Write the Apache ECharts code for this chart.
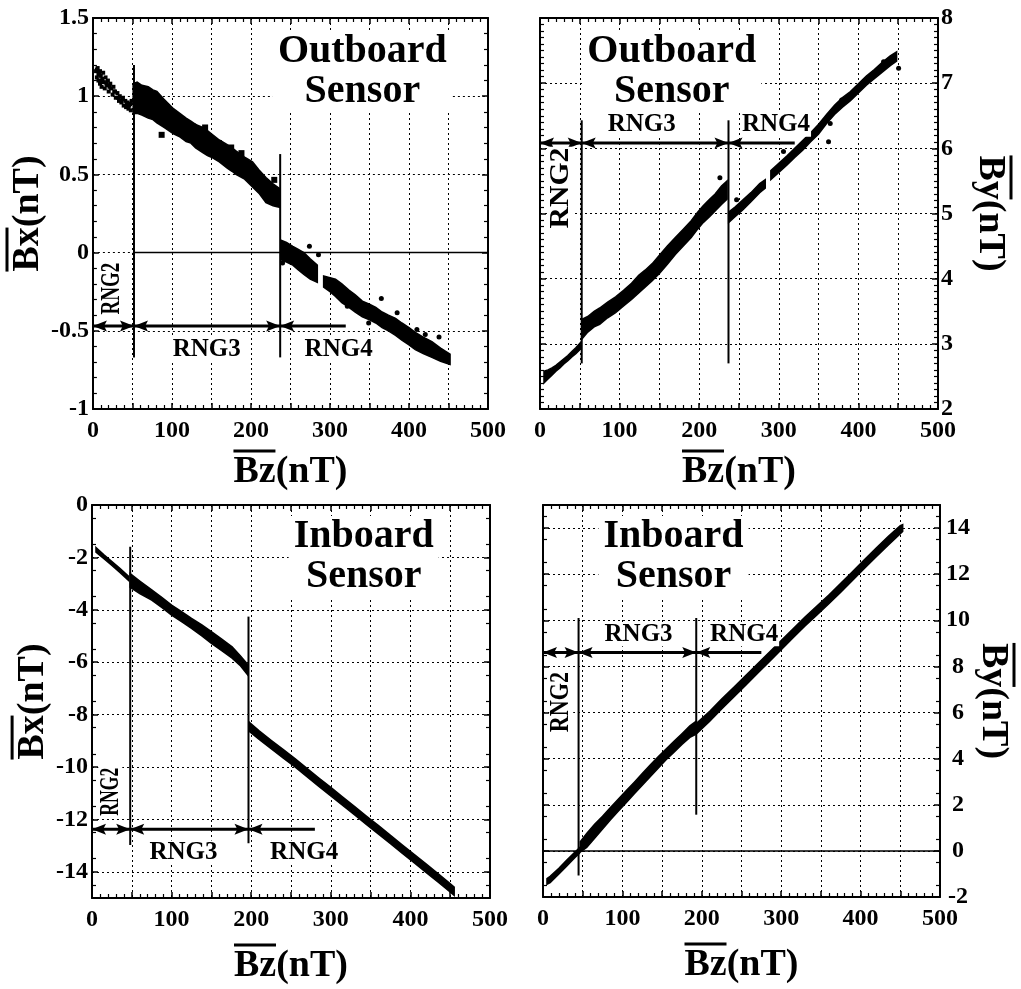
<!DOCTYPE html>
<html><head><meta charset="utf-8">
<script src="https://cdn.jsdelivr.net/npm/echarts@6/dist/echarts.min.js"></script>
<style>html,body{margin:0;padding:0;background:#fff}#c{width:1021px;height:989px}</style>
</head><body><div id="c"></div>
<script>
const FONT = '"Liberation Serif","Times New Roman",serif';

// ---------- shared Bz axis ----------
const X_RANGE = [0, 500];
const X_GRID_STEP = 50;
const X_TICK_LABELS = [0, 100, 200, 300, 400, 500];

// ---------- Panel 1 : Outboard sensor, Bx vs Bz ----------
const P1_Y_RANGE = [-1, 1.5];
const P1_Y_STEP = 0.5;
const P1_Y_TICK_LABELS = [-1, -0.5, 0, 0.5, 1, 1.5];
const P1_RNG2_DOTS = [[4,1.16],[5,1.12],[5,1.17],[6,1.18],[7,1.10],[7,1.14],[8,1.14],[9,1.08],[9,1.16],[10,1.13],[11,1.06],[11,1.10],[12,1.11],[13,1.15],[14,1.09],[15,1.05],[16,1.12],[17,1.08],[18,1.07],[19,1.10],[20,1.03],[21,1.06],[22,1.08],[23,1.05],[25,1.01],[26,1.06],[27,1.03],[28,1.03],[29,0.99],[31,1.02],[32,0.99],[33,0.97],[34,1.00],[36,0.96],[37,0.98],[38,0.99],[39,0.94],[41,0.97],[42,0.93],[43,0.95],[44,0.96],[45,0.92],[46,0.94],[47,0.95],[48,0.91],[49,0.97]];
const P1_RNG3_BAND = [[51,0.89,1.08],[56,0.89,1.09],[62,0.88,1.07],[70,0.86,1.06],[76,0.85,1.04],[81,0.83,1.03],[90,0.80,0.98],[96,0.78,0.95],[102,0.76,0.92],[110,0.74,0.89],[118,0.71,0.86],[124,0.70,0.84],[130,0.67,0.82],[139,0.64,0.80],[145,0.62,0.78],[150,0.61,0.76],[160,0.58,0.72],[170,0.54,0.69],[176,0.52,0.67],[181,0.50,0.65],[192,0.47,0.61],[202,0.42,0.58],[210,0.38,0.53],[219,0.32,0.48],[228,0.30,0.44],[236,0.29,0.41]];
const P1_RNG3_DOTS = [[87,0.753],[127,0.806],[142,0.80],[159.5,0.70],[175,0.672],[188,0.636],[229.5,0.465]];
const P1_RNG4A_BAND = [[238,-0.045,0.08],[245,-0.06,0.065],[253,-0.08,0.04],[260,-0.11,0.02],[267,-0.14,0.0],[275,-0.17,-0.04],[284,-0.19,-0.08]];
const P1_RNG4B_BAND = [[292,-0.22,-0.15],[300,-0.25,-0.16],[307,-0.28,-0.17],[315,-0.32,-0.20],[324,-0.35,-0.24],[332,-0.38,-0.27],[341,-0.41,-0.31],[350,-0.43,-0.33],[358,-0.45,-0.35],[366,-0.48,-0.38],[374,-0.50,-0.40],[383,-0.53,-0.42],[391,-0.56,-0.45],[400,-0.59,-0.48],[408,-0.62,-0.51],[418,-0.645,-0.54],[429,-0.67,-0.57],[440,-0.695,-0.61],[452,-0.715,-0.65]];
const P1_RNG4_DOTS = [[240,-0.067],[274,0.04],[285.5,-0.013],[322,-0.343],[349,-0.45],[365,-0.294],[385,-0.384],[410,-0.492],[420.6,-0.524],[438,-0.54]];
const P1_SPLITS = [[52,-0.67,1.2],[237,-0.67,0.63]];
const P1_ZERO_LINE = [52, 500];
const P1_ARROW_Y = -0.47;
const P1_ARROW_X = [0, 52, 237, 320];
const P1_RNG_LABEL_POS = [[24,-0.23],[144,-0.62],[311,-0.62]];
const P1_TITLE_POS = [341, 1.16];

// ---------- Panel 2 : Outboard sensor, By vs Bz ----------
const P2_Y_RANGE = [2, 8];
const P2_Y_STEP = 1;
const P2_Y_TICK_LABELS = [2, 3, 4, 5, 6, 7, 8];
const P2_RNG2_BAND = [[5,2.40,2.58],[10,2.46,2.60],[15,2.52,2.63],[20,2.58,2.67],[25,2.63,2.72],[30,2.69,2.77],[35,2.74,2.82],[40,2.80,2.88],[45,2.85,2.94],[51,2.92,3.02]];
const P2_RNG3_BAND = [[53,3.08,3.38],[60,3.18,3.42],[68,3.26,3.50],[75,3.30,3.55],[85,3.40,3.64],[95,3.48,3.72],[105,3.58,3.82],[115,3.68,3.93],[124,3.78,4.05],[132,3.87,4.13],[141,3.97,4.23],[150,4.08,4.36],[160,4.22,4.50],[170,4.37,4.63],[180,4.50,4.76],[190,4.63,4.89],[198,4.76,5.02],[205,4.86,5.12],[213,4.95,5.22],[220,5.04,5.30],[228,5.14,5.42],[235,5.22,5.50]];
const P2_RNG4A_BAND = [[237,4.86,5.02],[245,4.95,5.10],[255,5.06,5.21],[265,5.18,5.32],[276,5.32,5.46],[283,5.39,5.52]];
const P2_RNG4B_BAND = [[290,5.52,5.66],[300,5.63,5.77],[310,5.74,5.88],[320,5.86,6.00],[330,5.97,6.12],[340,6.10,6.24],[350,6.22,6.37],[360,6.38,6.52],[370,6.52,6.66],[380,6.63,6.78],[390,6.73,6.87],[400,6.85,6.99],[410,6.97,7.11],[420,7.07,7.21],[430,7.17,7.32],[440,7.27,7.42],[448,7.34,7.48]];
const P2_DOTS = [[226,5.55],[247,5.21],[305.9,5.95],[362.5,6.10],[364.6,6.38],[379,6.74],[398,6.92],[431.6,7.33],[450.5,7.23]];
const P2_SPLITS = [[52.4,2.70,6.43],[236.8,2.70,6.43]];
const P2_ARROW_Y = 6.08;
const P2_ARROW_X = [0, 52.4, 236.8, 320];
const P2_RNG_LABEL_POS = [[26.2,5.39],[127.8,6.36],[296.5,6.36]];
const P2_TITLE_POS = [165.6, 7.18];

// ---------- Panel 3 : Inboard sensor, Bx vs Bz ----------
const P3_Y_RANGE = [-15, 0];
const P3_Y_STEP = 1;
const P3_Y_TICK_LABELS = [-14, -12, -10, -8, -6, -4, -2, 0];
const P3_RNG2_BAND = [[5,-1.80,-1.62],[15,-2.05,-1.90],[25,-2.31,-2.16],[35,-2.57,-2.42],[46,-2.88,-2.72]];
const P3_RNG3_BAND = [[48,-3.14,-2.62],[60,-3.38,-2.90],[75,-3.63,-3.24],[88,-3.92,-3.53],[100,-4.20,-3.82],[113,-4.46,-4.08],[125,-4.71,-4.33],[138,-5.00,-4.58],[150,-5.28,-4.83],[163,-5.56,-5.12],[176,-5.85,-5.41],[186,-6.12,-5.74],[196,-6.50,-6.10]];
const P3_RNG4_BAND = [[198,-8.65,-8.30],[210,-8.95,-8.62],[225,-9.30,-8.98],[240,-9.65,-9.33],[255,-10.00,-9.68],[270,-10.37,-10.05],[285,-10.74,-10.42],[300,-11.10,-10.78],[315,-11.47,-11.15],[330,-11.83,-11.51],[345,-12.20,-11.88],[360,-12.56,-12.24],[375,-12.93,-12.61],[390,-13.30,-12.98],[405,-13.66,-13.34],[420,-14.03,-13.71],[435,-14.40,-14.08],[448,-14.72,-14.40],[455,-14.90,-14.58]];
const P3_SPLITS = [[48,-12.98,-1.59],[196.6,-12.91,-4.26]];
const P3_ARROW_Y = -12.38;
const P3_ARROW_X = [0, 48, 196.6, 280];
const P3_RNG_LABEL_POS = [[23,-10.94],[114.9,-13.26],[266.5,-13.26]];
const P3_TITLE_POS = [341.3, -1.98];

// ---------- Panel 4 : Inboard sensor, By vs Bz ----------
const P4_Y_RANGE = [-2, 15];
const P4_Y_STEP = 1;
const P4_Y_TICK_LABELS = [-2, 0, 2, 4, 6, 8, 10, 12, 14];
const P4_RNG2_BAND = [[5,-1.45,-1.20],[9,-1.38,-1.10],[20,-1.00,-0.75],[30,-0.65,-0.40],[40,-0.30,-0.06],[46,-0.10,0.14]];
const P4_RNG3_BAND = [[47,-0.05,0.40],[55,0.15,0.75],[65,0.55,1.15],[75,0.95,1.50],[85,1.35,1.88],[95,1.73,2.25],[105,2.10,2.62],[115,2.48,2.98],[125,2.85,3.35],[135,3.22,3.72],[145,3.58,4.08],[155,3.95,4.42],[165,4.28,4.75],[175,4.62,5.08],[185,4.92,5.42],[192,5.05,5.60]];
const P4_RNG4_BAND = [[194,5.10,5.55],[210,5.62,6.05],[225,6.15,6.58],[240,6.66,7.08],[255,7.17,7.59],[270,7.69,8.10],[285,8.20,8.61],[300,8.72,9.12],[315,9.24,9.63],[330,9.75,10.14],[345,10.23,10.62],[360,10.72,11.10],[375,11.22,11.60],[390,11.74,12.12],[405,12.26,12.64],[420,12.77,13.14],[435,13.27,13.64],[450,13.75,14.10],[453,13.85,14.15]];
const P4_SPLITS = [[44.8,-1.07,10.1],[193,1.57,10.1]];
const P4_ZERO_LINE = [0, 500];
const P4_ARROW_Y = 8.6;
const P4_ARROW_X = [0, 44.8, 193, 275];
const P4_RNG_LABEL_POS = [[22.9,6.45],[120.4,9.39],[253.3,9.39]];
const P4_TITLE_POS = [164.4, 12.74];

// ---------- helpers ----------
const BLACK = '#000';
const labelFont = {fontSize: 24, fontWeight: 'bold', fontFamily: FONT, color: BLACK};
const splitStyle = {show: true, lineStyle: {color: BLACK, width: 1, type: [2, 3]}};

function nameRich(olWidth) {
  return {
    rich: {
      o: {width: olWidth, height: 3, backgroundColor: BLACK, align: 'left', lineHeight: 8},
      t: {fontSize: 38, fontWeight: 'bold', fontFamily: FONT, color: BLACK, align: 'left', lineHeight: 34}
    }
  };
}

function xAxes(gi, gap) {
  const common = {
    type: 'value', gridIndex: gi, min: X_RANGE[0], max: X_RANGE[1], interval: X_GRID_STEP,
    axisLine: {show: true, onZero: false, lineStyle: {color: BLACK, width: 2}},
    axisTick: {show: true, inside: true, length: 6, lineStyle: {color: BLACK, width: 1.5}},
    minorTick: {show: true, splitNumber: 5, length: 4, lineStyle: {color: BLACK, width: 1.2}}
  };
  return [
    Object.assign({}, common, {
      position: 'bottom', splitLine: splitStyle,
      axisLabel: Object.assign({show: true, customValues: X_TICK_LABELS, margin: 10}, labelFont),
      name: '{o|}\n{t|Bz(nT)}', nameLocation: 'middle', nameGap: gap, nameTextStyle: nameRich(42)
    }),
    Object.assign({}, common, {position: 'top', splitLine: {show: false}, axisLabel: {show: false}})
  ];
}

function yAxes(gi, range, step, minorSplit, labels, tickVals, side, nameText, gap, lblAlign, lblMargin) {
  const common = {
    type: 'value', gridIndex: gi, min: range[0], max: range[1], interval: step,
    axisLine: {show: true, onZero: false, lineStyle: {color: BLACK, width: 2}},
    axisTick: {show: true, inside: true, length: 6, lineStyle: {color: BLACK, width: 1.5}},
    minorTick: {show: true, splitNumber: minorSplit, length: 4, lineStyle: {color: BLACK, width: 1.2}}
  };
  if (tickVals) common.axisTick.customValues = tickVals;
  const main = Object.assign({}, common, {
    position: side, splitLine: splitStyle,
    axisLabel: Object.assign({show: true, customValues: labels, margin: lblMargin, align: lblAlign}, labelFont),
    name: '{o|}\n{t|' + nameText + '}', nameLocation: 'middle', nameGap: gap,
    nameRotate: side === 'left' ? 90 : -90, nameTextStyle: nameRich(44)
  });
  const mirror = Object.assign({}, common, {
    position: side === 'left' ? 'right' : 'left', splitLine: {show: false}, axisLabel: {show: false}
  });
  return side === 'left' ? [main, mirror] : [mirror, main];
}

function band(ai, rows) {
  return {
    type: 'custom', xAxisIndex: ai, yAxisIndex: ai, silent: true, z: 3, animation: false,
    data: [[rows[0][0], rows[0][1]]],
    renderItem: function (params, api) {
      const pts = [];
      for (let i = 0; i < rows.length; i++) pts.push(api.coord([rows[i][0], rows[i][2]]));
      for (let i = rows.length - 1; i >= 0; i--) pts.push(api.coord([rows[i][0], rows[i][1]]));
      return {type: 'polygon', shape: {points: pts}, style: {fill: BLACK, stroke: BLACK, lineWidth: 1.5}};
    }
  };
}

function dots(ai, pts, symbol, size) {
  return {type: 'scatter', xAxisIndex: ai, yAxisIndex: ai, data: pts, symbol: symbol, symbolSize: size,
    itemStyle: {color: BLACK, opacity: 1}, silent: true, z: 3, animation: false};
}

function seg(ai, pts, width) {
  return {type: 'line', xAxisIndex: ai, yAxisIndex: ai, data: pts, symbol: 'none', silent: true, z: 4,
    lineStyle: {color: BLACK, width: width}, animation: false};
}

// arrows + RNG labels + sensor title, drawn through the axes' scales
function annotations(ai, arrowY, arrowX, rngPos, titlePos, titleText, rng2Stretch) {
  const L = 14, W = 11;
  return {
    type: 'custom', xAxisIndex: ai, yAxisIndex: ai, silent: true, z: 5, animation: false,
    data: [[arrowX[0], arrowY]],
    renderItem: function (params, api) {
      const p = arrowX.map(x => api.coord([x, arrowY]));
      const head = (tip, dir) => ({type: 'polygon', shape: {points: [
        [tip[0], tip[1]], [tip[0] - dir * L, tip[1] - W / 2],
        [tip[0] - dir * L * 0.8, tip[1]], [tip[0] - dir * L, tip[1] + W / 2]]},
        style: {fill: BLACK}});
      const txt = (pos, t, rot, size, lh, pad, sx) => {
        const c = api.coord(pos);
        return {type: 'text', x: c[0], y: c[1], rotation: rot, scaleX: sx || 1,
          style: {text: t, fontSize: size, lineHeight: lh, fontWeight: 'bold', fontFamily: FONT, fill: BLACK,
            align: 'center', verticalAlign: 'middle', backgroundColor: '#fff', padding: pad}};
      };
      return {type: 'group', children: [
        {type: 'line', shape: {x1: p[0][0], y1: p[0][1], x2: p[3][0], y2: p[3][1]}, style: {stroke: BLACK, lineWidth: 3}},
        head(p[0], -1), head(p[1], 1), head(p[1], -1), head(p[2], 1), head(p[2], -1),
        txt(titlePos, titleText, 0, 40, 40, [1, 5]),
        txt(rngPos[0], 'RNG2', Math.PI / 2, 28, 24, [0, 1], rng2Stretch),
        txt(rngPos[1], 'RNG3', 0, 25, 24, [0, 1]),
        txt(rngPos[2], 'RNG4', 0, 25, 24, [0, 1])
      ]};
    }
  };
}

function splits(ai, list) {
  return list.map(s => seg(ai, [[s[0], s[1]], [s[0], s[2]]], 2));
}

const series = [].concat(
  // panel 1
  [dots(0, P1_RNG2_DOTS, 'rect', 4), band(0, P1_RNG3_BAND), dots(0, P1_RNG3_DOTS, 'rect', 6),
   band(0, P1_RNG4A_BAND), band(0, P1_RNG4B_BAND), dots(0, P1_RNG4_DOTS, 'circle', 5),
   seg(0, [[P1_ZERO_LINE[0], 0], [P1_ZERO_LINE[1], 0]], 1.5)],
  splits(0, P1_SPLITS),
  [annotations(0, P1_ARROW_Y, P1_ARROW_X, P1_RNG_LABEL_POS, P1_TITLE_POS, 'Outboard\nSensor', 0.68)],
  // panel 2
  [band(2, P2_RNG2_BAND), band(2, P2_RNG3_BAND), band(2, P2_RNG4A_BAND), band(2, P2_RNG4B_BAND),
   dots(2, P2_DOTS, 'circle', 5)],
  splits(2, P2_SPLITS),
  [annotations(2, P2_ARROW_Y, P2_ARROW_X, P2_RNG_LABEL_POS, P2_TITLE_POS, 'Outboard\nSensor', 1.06)],
  // panel 3
  [band(4, P3_RNG2_BAND), band(4, P3_RNG3_BAND), band(4, P3_RNG4_BAND)],
  splits(4, P3_SPLITS),
  [annotations(4, P3_ARROW_Y, P3_ARROW_X, P3_RNG_LABEL_POS, P3_TITLE_POS, 'Inboard\nSensor', 0.63)],
  // panel 4
  [band(6, P4_RNG2_BAND), band(6, P4_RNG3_BAND), band(6, P4_RNG4_BAND),
   seg(6, [[P4_ZERO_LINE[0], 0], [P4_ZERO_LINE[1], 0]], 1.5)],
  splits(6, P4_SPLITS),
  [annotations(6, P4_ARROW_Y, P4_ARROW_X, P4_RNG_LABEL_POS, P4_TITLE_POS, 'Inboard\nSensor', 0.79)]
);

const option = {
  backgroundColor: '#fff',
  animation: false,
  textStyle: {fontFamily: FONT},
  grid: [
    {left: 91, top: 18, width: 397, height: 391},
    {left: 540, top: 18, width: 398, height: 391},
    {left: 92, top: 505, width: 398, height: 393},
    {left: 543, top: 505, width: 397, height: 392}
  ],
  xAxis: [].concat(xAxes(0, 38), xAxes(1, 38), xAxes(2, 43), xAxes(3, 43)),
  yAxis: [].concat(
    yAxes(0, P1_Y_RANGE, P1_Y_STEP, 5, P1_Y_TICK_LABELS, null, 'left', 'Bx(nT)', 37, 'right', 4),
    yAxes(1, P2_Y_RANGE, P2_Y_STEP, 10, P2_Y_TICK_LABELS, null, 'right', 'By(nT)', 35, 'left', 3),
    yAxes(2, P3_Y_RANGE, P3_Y_STEP, 2, P3_Y_TICK_LABELS, P3_Y_TICK_LABELS, 'left', 'Bx(nT)', 35, 'right', 4),
    yAxes(3, P4_Y_RANGE, P4_Y_STEP, 2, P4_Y_TICK_LABELS, P4_Y_TICK_LABELS, 'right', 'By(nT)', 36, 'center', 18)
  ),
  series: series
};

const chart = echarts.init(document.getElementById('c'), null, {renderer: 'canvas'});
chart.setOption(option);
</script></body></html>
